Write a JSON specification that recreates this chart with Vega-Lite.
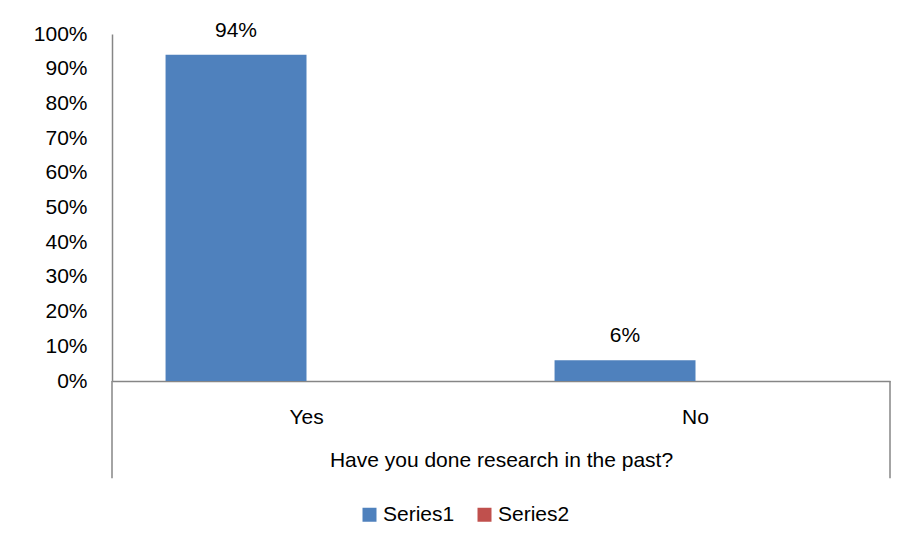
{
  "$schema": "https://vega.github.io/schema/vega-lite/v6.json",
  "width": 778,
  "height": 347,
  "autosize": {"type": "none"},
  "padding": {"left": 112, "top": 34, "right": 22, "bottom": 168},
  "background": "white",
  "config": {
    "view": {"stroke": null},
    "font": "Liberation Sans",
    "axis": {"labelFont": "Liberation Sans", "titleFont": "Liberation Sans", "labelColor": "#000000", "titleColor": "#000000", "domainColor": "#868686", "domainWidth": 1.5, "grid": false, "ticks": false},
    "axisY": {"labelOverlap": false, "labelFontSize": 21, "labelPadding": 25, "tickCount": 11},
    "legend": {"labelFont": "Liberation Sans", "labelColor": "#000000"}
  },
  "data": {
    "values": [
      {"answer": "Yes", "series": "Series1", "value": 0.94},
      {"answer": "No", "series": "Series1", "value": 0.06}
    ]
  },
  "layer": [
    {
      "mark": {"type": "bar"},
      "encoding": {
        "x": {
          "field": "answer", "type": "nominal",
          "scale": {"domain": ["Yes", "No"], "paddingInner": 0, "paddingOuter": 0},
          "axis": {"labelAngle": 0, "labelFontSize": 21, "labelPadding": 25, "title": "Have you done research in the past?", "titleFontSize": 21, "titleFontWeight": "normal", "titlePadding": 22}
        },
        "xOffset": {"field": "series", "type": "nominal", "scale": {"domain": ["Series1", "Series2"], "paddingInner": 0, "paddingOuter": 0.38}},
        "y": {
          "field": "value", "type": "quantitative",
          "scale": {"domain": [0, 1], "nice": false},
          "axis": {"format": ".0%", "values": [0, 0.1, 0.2, 0.3, 0.4, 0.5, 0.6, 0.7, 0.8, 0.9, 1], "labelOverlap": false, "title": null}
        },
        "color": {
          "field": "series", "type": "nominal",
          "scale": {"domain": ["Series1", "Series2"], "range": ["#4F81BD", "#C0504D"]},
          "legend": {"title": null, "orient": "none", "legendX": 247, "legendY": 470, "direction": "horizontal", "symbolType": "square", "symbolSize": 196, "symbolStrokeWidth": 0, "labelFontSize": 21, "labelOffset": 3, "columnPadding": 19, "padding": 0}
        }
      }
    },
    {
      "mark": {"type": "text", "baseline": "alphabetic", "dy": -18, "fontSize": 21, "color": "#000000"},
      "encoding": {
        "x": {"field": "answer", "type": "nominal"},
        "xOffset": {"field": "series", "type": "nominal"},
        "y": {"field": "value", "type": "quantitative", "axis": {"format": ".0%", "values": [0, 0.1, 0.2, 0.3, 0.4, 0.5, 0.6, 0.7, 0.8, 0.9, 1], "labelOverlap": false, "title": null}},
        "text": {"field": "value", "type": "quantitative", "format": ".0%"}
      }
    },
    {
      "data": {"values": [{"edge": "left"}]},
      "mark": {"type": "rule", "color": "#868686", "strokeWidth": 1.5},
      "encoding": {
        "x": {"datum": "Yes", "bandPosition": 0},
        "y": {"datum": 0},
        "y2": {"datum": -0.28}
      }
    },
    {
      "data": {"values": [{"edge": "right"}]},
      "mark": {"type": "rule", "color": "#868686", "strokeWidth": 1.5},
      "encoding": {
        "x": {"datum": "No", "bandPosition": 1},
        "y": {"datum": 0},
        "y2": {"datum": -0.28}
      }
    }
  ]
}
